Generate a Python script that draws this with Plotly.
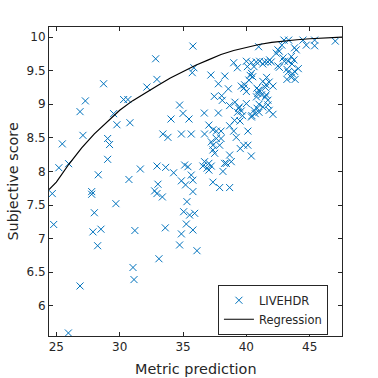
import plotly.graph_objects as go

# Scatter data: metric prediction (x) vs subjective score (y)
metric = [
    28.73, 32.15, 27.29, 30.31, 30.65, 26.87, 29.52, 29.78, 30.81, 27.10,
    29.05, 25.47, 29.20, 29.05, 25.97, 25.20, 31.63, 28.31, 30.73, 24.68,
    27.79, 27.79, 29.70, 28.00, 24.79, 28.52, 27.89, 31.20, 28.26, 31.05,
    31.13, 26.87, 25.95, 32.84, 32.94,
    32.95, 33.63, 34.26, 33.02, 32.76, 32.94, 33.37, 33.60, 33.10, 33.41,
    33.81, 34.05, 34.73, 35.00, 35.47, 34.87, 35.65,
    35.78, 35.86, 35.73, 37.20, 38.30, 37.79, 38.58, 39.00, 39.29, 40.00,
    37.47, 38.05, 38.10, 36.68, 37.79, 38.68, 37.04, 37.36, 37.63, 38.00,
    38.68, 36.70, 37.23, 37.63, 38.00, 37.36, 37.89, 37.36, 37.50, 39.20,
    39.52, 39.78, 40.12, 38.68, 38.42, 38.81, 38.15, 36.70, 37.04, 36.57,
    36.90, 37.23, 37.04, 35.13, 35.39, 35.65, 35.78, 34.87, 35.20, 35.78,
    37.36, 37.89, 38.68, 35.31, 35.05, 35.52, 35.92, 35.26, 35.78, 34.87,
    34.73, 36.10, 40.39, 38.28,
    40.97, 42.97, 43.34, 44.47, 45.39, 47.02, 42.80, 43.80, 43.94, 44.73,
    45.39, 42.49, 42.36, 42.60, 43.55, 43.76, 41.84, 41.97, 41.70, 41.44,
    41.30, 41.05, 40.78, 42.49, 42.90, 43.00, 43.30, 43.60, 40.39, 40.08,
    40.60, 43.30, 43.65, 43.80, 43.55, 43.20, 43.85, 41.60, 41.80, 41.30,
    41.50, 41.55, 42.10, 40.40, 40.30, 40.20, 40.50, 39.86, 40.97, 40.90,
    41.20, 40.80, 41.50, 41.70, 41.00, 41.30, 41.70, 40.85, 40.60, 41.00,
    40.70, 40.44, 42.10, 40.12, 40.00, 40.00, 39.40, 39.07, 39.60, 39.80,
    40.83, 41.05, 41.57, 41.80, 40.40, 39.10, 39.45, 39.60, 39.30, 39.70,
    39.50, 39.00, 42.60, 44.10, 43.20,
]
score = [
    9.305, 9.256, 9.05, 9.07, 9.07, 8.89, 8.86, 8.695, 8.725, 8.537,
    8.49, 8.41, 8.40, 8.18, 8.115, 8.055, 8.036, 7.95, 7.88, 7.67,
    7.70, 7.66, 7.52, 7.385, 7.21, 7.14, 7.10, 7.12, 6.894, 6.57,
    6.39, 6.295, 5.595, 9.677, 9.37,
    8.08, 8.06, 7.98, 7.81, 7.71, 7.67, 7.62, 7.16, 6.70, 8.557,
    8.507, 8.78, 8.988, 8.864, 8.78, 8.557, 8.557,
    9.866, 9.543, 9.47, 9.435, 9.42, 9.305, 9.23, 9.618, 9.543, 9.64,
    9.117, 9.127, 9.058, 8.869, 8.87, 8.98, 8.69, 8.62, 8.60, 8.60,
    8.68, 8.557, 8.44, 8.49, 8.49, 8.39, 8.39, 8.32, 8.27, 8.507,
    8.34, 8.39, 8.39, 8.244, 8.12, 8.145, 8.00, 8.145, 8.12, 8.08,
    8.05, 8.08, 8.02, 8.095, 8.07, 7.946, 7.87, 7.86, 7.80, 7.70,
    7.84, 7.76, 7.76, 7.55, 7.40, 7.35, 7.376, 7.217, 7.128, 7.07,
    6.905, 6.82, 8.23, 8.12,
    9.856, 9.955, 9.955, 9.955, 9.955, 9.94, 9.88, 9.84, 9.81, 9.88,
    9.87, 9.81, 9.76, 9.79, 9.71, 9.66, 9.66, 9.63, 9.63, 9.63,
    9.60, 9.64, 9.63, 9.57, 9.69, 9.64, 9.64, 9.60, 9.62, 9.56,
    9.56, 9.48, 9.45, 9.49, 9.40, 9.37, 9.37, 9.40, 9.33, 9.34,
    9.25, 9.29, 9.27, 9.46, 9.43, 9.36, 9.41, 9.29, 9.21, 9.16,
    9.14, 9.11, 9.11, 9.06, 9.00, 8.96, 8.99, 8.94, 8.91, 8.88,
    8.86, 8.83, 8.85, 8.60, 9.19, 9.01, 8.94, 8.76, 9.27, 9.24,
    9.24, 9.20, 9.14, 8.91, 8.81, 9.03, 8.96, 8.90, 8.88, 8.83,
    8.75, 8.60, 9.55, 9.53, 9.52,
]

# Regression curve
reg_x = [24.42, 25, 26, 27, 28, 29, 30, 31, 32, 33, 34, 35, 36, 37, 38, 39,
         40, 41, 42, 43, 44, 45, 46, 47, 47.55]
reg_y = [7.73, 7.84, 8.11, 8.35, 8.56, 8.74, 8.91, 9.05, 9.17, 9.28, 9.39,
         9.49, 9.58, 9.66, 9.74, 9.80, 9.85, 9.89, 9.92, 9.945, 9.96, 9.975,
         9.985, 9.995, 10.0]

x_ticks = [25, 30, 35, 40, 45]
y_ticks = [6, 6.5, 7, 7.5, 8, 8.5, 9, 9.5, 10]

ink = "#262626"
font = "DejaVu Sans"

fig = go.Figure()
fig.add_trace(go.Scatter(
    x=metric, y=score, mode="markers", name="LIVEHDR",
    marker=dict(symbol="x-thin", size=7, color="#0072BD",
                line=dict(color="#0072BD", width=1)),
))
fig.add_trace(go.Scatter(
    x=reg_x, y=reg_y, mode="lines", name="Regression",
    line=dict(color="black", width=1.2),
))

axis_common = dict(
    showline=True, linecolor=ink, linewidth=1, mirror="ticks",
    ticks="inside", ticklen=4, tickcolor=ink, tickwidth=1,
    showgrid=False, zeroline=False, automargin=False,
    tickfont=dict(family=font, size=12, color=ink),
)

fig.update_layout(
    width=378, height=378,
    margin=dict(l=49, r=36, t=27, b=42, autoexpand=False),
    paper_bgcolor="white", plot_bgcolor="white",
    font=dict(family=font, color=ink, size=12),
    xaxis=dict(range=[24.42, 47.55], tickvals=x_ticks, **axis_common),
    yaxis=dict(range=[5.55, 10.15], tickvals=y_ticks,
               ticktext=[str(v) for v in y_ticks], **axis_common),
    legend=dict(x=0.952, y=0.004, xanchor="right", yanchor="bottom",
                bgcolor="white", bordercolor=ink, borderwidth=1,
                font=dict(family=font, size=11.5, color=ink),
                tracegroupgap=0),
    showlegend=True,
    annotations=[
        dict(text="Metric prediction", xref="paper", yref="paper",
             x=0.5, y=-0.107, xanchor="center", yanchor="middle",
             showarrow=False, font=dict(family=font, size=14.4, color=ink)),
        dict(text="Subjective score", xref="paper", yref="paper",
             x=-0.126, y=0.5, xanchor="center", yanchor="middle",
             textangle=-90, showarrow=False,
             font=dict(family=font, size=14.4, color=ink)),
    ],
)

fig.write_html("out.html",
               config={"displayModeBar": False},
               post_script="document.body.style.margin='0';")
